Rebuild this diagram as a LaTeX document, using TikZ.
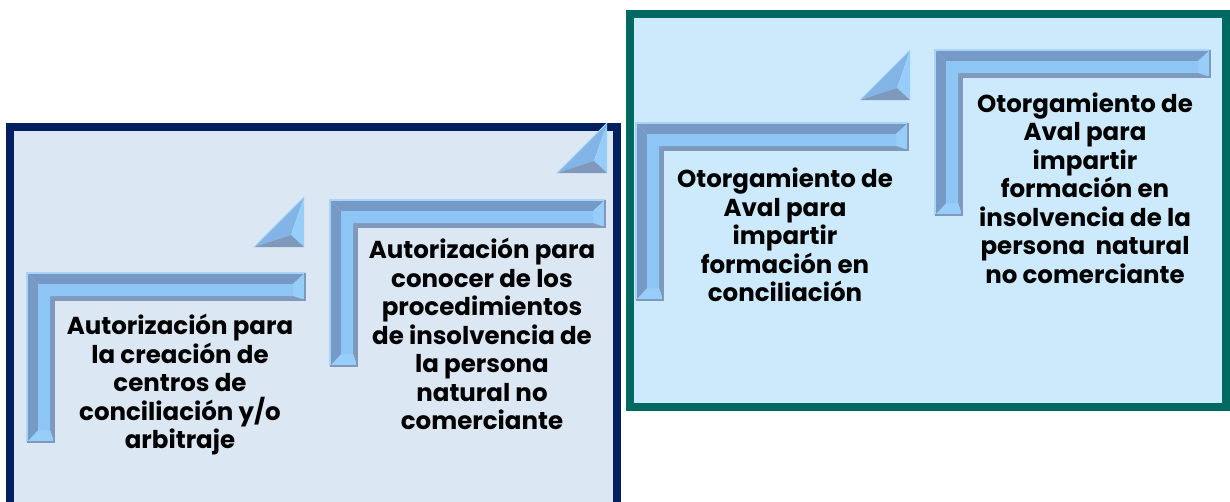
\documentclass[tikz,border=0pt]{standalone}
\usepackage{fontspec}
\setmainfont{Poppins}
\usetikzlibrary{positioning}

\definecolor{navyline}{HTML}{002060}
\definecolor{navyfill}{HTML}{DCE7F4}
\definecolor{tealline}{HTML}{006A62}
\definecolor{tealfill}{HTML}{CCEAFB}
\definecolor{stepface}{HTML}{8DC5F4}
\definecolor{stepdark}{HTML}{7699C5}
\definecolor{steplight}{HTML}{96CDF9}
\definecolor{stepshade}{HTML}{7E99BC}
\definecolor{steprim}{HTML}{A9D4F8}
\definecolor{trimid}{HTML}{82B5E6}

% bevelled L step: x0, y0 (top left), width, height
\newcommand\stepup[4]{%
  \begin{scope}[shift={(#1,#2)}]
    \fill[stepdark] (0,0) -- (#3,0) -- (#3-12,11) -- (11,11) -- cycle;
    \fill[steplight] (#3,0) -- (#3,27) -- (#3-12,23) -- (#3-12,11) -- cycle;
    \fill[stepshade] (#3,27) -- (27,27) -- (23,23) -- (#3-12,23) -- cycle;
    \fill[stepshade] (27,27) -- (27,#4) -- (23,#4-12) -- (23,23) -- cycle;
    \fill[steplight] (27,#4) -- (0,#4) -- (11,#4-12) -- (23,#4-12) -- cycle;
    \fill[stepdark] (0,#4) -- (0,0) -- (11,11) -- (11,#4-12) -- cycle;
    \fill[stepface] (11,11) -- (#3-12,11) -- (#3-12,23) -- (23,23) -- (23,#4-12) -- (11,#4-12) -- cycle;
    \draw[steprim, line width=1.5pt] (0,#4) -- (0,0) -- (#3,0);
    \draw[stepshade, line width=1.5pt] (#3,0) -- (#3,27) -- (27,27) -- (27,#4) -- (0,#4);
  \end{scope}}

% bevelled corner triangle: right x, bottom y, size
\newcommand\stepcorner[3]{%
  \begin{scope}[shift={(#1,#2)}]
    \fill[trimid] (-#3,0) -- (0,-#3) -- (-13,-12) -- cycle;
    \fill[steplight] (0,-#3) -- (0,0) -- (-13,-12) -- cycle;
    \fill[stepshade] (0,0) -- (-#3,0) -- (-13,-12) -- cycle;
    \draw[steprim, line width=1pt] (-#3,0) -- (0,-#3);
  \end{scope}}

\begin{document}
\begin{tikzpicture}[x=1pt, y=-1pt,
    steptext/.style={align=center, inner sep=0pt,
      font=\fontsize{24.5}{28.5}\selectfont\bfseries}]
  \useasboundingbox (0,0) rectangle (1230,501);

  % left panel
  \draw[navyline, line width=8pt, fill=navyfill] (10,127) rectangle (617,520);
  % right panel
  \draw[tealline, line width=8pt, fill=tealfill] (630,14) rectangle (1226,407);

  \stepup{27}{273}{278}{169}
  \stepup{330}{200}{275}{166}
  \stepup{636}{123}{272}{177}
  \stepup{935}{50}{275}{165}

  \stepcorner{304}{247}{50}
  \stepcorner{607}{173}{50}
  \stepcorner{910}{100}{50}

  \node[steptext] (creacion) at (180,385)
    {Autorización para\\la creación de\\centros de\\conciliación y/o\\arbitraje};
  \node[steptext] (insolvencia) at (482,334)
    {Autorización para\\conocer de los\\procedimientos\\de insolvencia de\\la persona\\natural no\\comerciante};
  \node[steptext] (avalconc) at (785,235)
    {Otorgamiento de\\Aval para\\impartir\\formación en\\conciliación};
  \node[steptext] (avalinsol) at (1085,188)
    {Otorgamiento de\\Aval para\\impartir\\formación en\\insolvencia de la\\persona\ \ natural\\no comerciante};
\end{tikzpicture}
\end{document}
